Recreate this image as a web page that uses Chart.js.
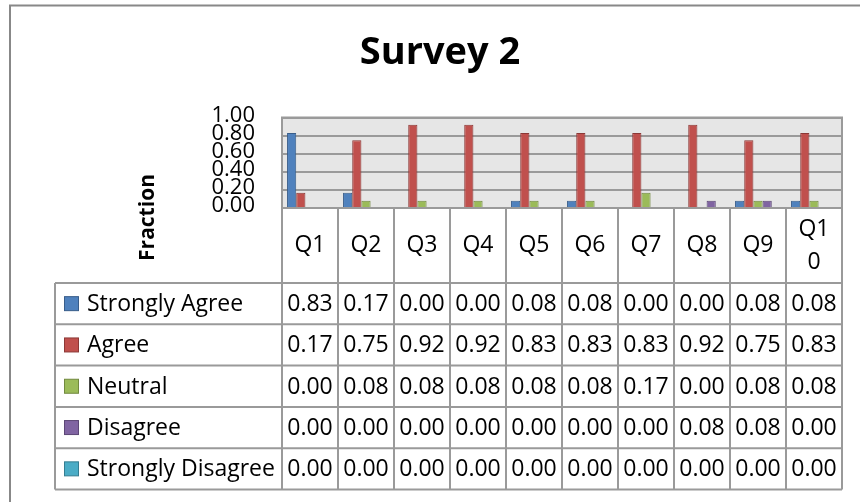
<!DOCTYPE html>
<html>
<head>
<meta charset="utf-8">
<title>Survey 2</title>
<script src="https://cdn.jsdelivr.net/npm/chart.js@4.4.0/dist/chart.umd.min.js"></script>
<style>
  html, body { margin: 0; padding: 0; background: #fff; }
  canvas { display: block; }
</style>
</head>
<body>
<canvas id="chart1" width="860" height="502"></canvas>
<script>
// answers per question, as fraction of respondents
const questions = ['Q1', 'Q2', 'Q3', 'Q4', 'Q5', 'Q6', 'Q7', 'Q8', 'Q9', 'Q10'];
const stronglyAgree = [0.83, 0.17, 0.00, 0.00, 0.08, 0.08, 0.00, 0.00, 0.08, 0.08];
const agree = [0.17, 0.75, 0.92, 0.92, 0.83, 0.83, 0.83, 0.92, 0.75, 0.83];
const neutral = [0.00, 0.08, 0.08, 0.08, 0.08, 0.08, 0.17, 0.00, 0.08, 0.08];
const disagree = [0.00, 0.00, 0.00, 0.00, 0.00, 0.00, 0.00, 0.08, 0.08, 0.00];
const stronglyDisagree = [0.00, 0.00, 0.00, 0.00, 0.00, 0.00, 0.00, 0.00, 0.00, 0.00];

const seriesNames = ['Strongly Agree', 'Agree', 'Neutral', 'Disagree', 'Strongly Disagree'];
const seriesValues = [stronglyAgree, agree, neutral, disagree, stronglyDisagree];
const fillColors = ['#4F81BD', '#C0504D', '#9BBB59', '#8064A2', '#4BACC6'];
const edgeColors = ['#385D8A', '#8C3836', '#71893F', '#5C4776', '#357D91'];

const FONT = "'Open Sans', sans-serif";
const LINE = '#9a9a9a';
const TABLE_LEFT = 55;
const ROW_H = 41.3;
const CELL_FONT = '23px ' + FONT;

// plot background, frame, the data table under the axis and the axis title
const tablePlugin = {
  id: 'dataTable',
  beforeDraw(chart) {
    const { ctx, chartArea: a } = chart;
    ctx.save();
    ctx.strokeStyle = '#888';
    ctx.lineWidth = 2;
    ctx.beginPath();
    ctx.moveTo(10, 502);
    ctx.lineTo(10, 5.5);
    ctx.lineTo(860, 5.5);
    ctx.stroke();
    ctx.fillStyle = '#e6e6e6';
    ctx.fillRect(a.left, a.top, a.right - a.left, a.bottom - a.top);
    ctx.restore();
  },
  afterDraw(chart) {
    const { ctx, chartArea: a } = chart;
    const xs = chart.scales.x;
    const top = xs.bottom;
    const bottom = top + ROW_H * seriesNames.length;
    const colW = (a.right - a.left) / questions.length;

    ctx.save();
    ctx.strokeStyle = LINE;
    ctx.lineWidth = 2;
    ctx.beginPath();
    // plot border
    ctx.moveTo(a.left, a.bottom);
    ctx.lineTo(a.left, a.top);
    ctx.lineTo(a.right, a.top);
    ctx.lineTo(a.right, a.bottom);
    // row lines
    for (let r = 0; r <= seriesNames.length; r++) {
      ctx.moveTo(TABLE_LEFT, top + r * ROW_H);
      ctx.lineTo(a.right, top + r * ROW_H);
    }
    ctx.moveTo(a.left, a.bottom);
    ctx.lineTo(a.right, a.bottom);
    // column lines
    ctx.moveTo(TABLE_LEFT, top);
    ctx.lineTo(TABLE_LEFT, bottom);
    for (let i = 0; i <= questions.length; i++) {
      ctx.moveTo(a.left + i * colW, a.bottom);
      ctx.lineTo(a.left + i * colW, bottom);
    }
    ctx.stroke();

    ctx.font = CELL_FONT;
    ctx.fillStyle = '#000';
    ctx.textBaseline = 'middle';
    ctx.textAlign = 'center';

    // category names centred in the cells under the plot; Q10 wraps
    const midY = (xs.top + xs.bottom) / 2;
    questions.forEach((q, i) => {
      const cx = xs.getPixelForValue(i);
      if (q.length > 2) {
        ctx.fillText(q.slice(0, 2), cx, midY - 16);
        ctx.fillText(q.slice(2), cx, midY + 17);
      } else {
        ctx.fillText(q, cx, midY);
      }
    });

    seriesNames.forEach((name, r) => {
      const cy = top + (r + 0.5) * ROW_H;
      ctx.fillStyle = fillColors[r];
      ctx.fillRect(64.5, cy - 7, 14, 14);
      ctx.strokeStyle = edgeColors[r];
      ctx.lineWidth = 1;
      ctx.strokeRect(64.5, cy - 7, 14, 14);
      ctx.fillStyle = '#000';
      ctx.textAlign = 'left';
      ctx.fillText(name, 87, cy + 1);
      ctx.textAlign = 'center';
      seriesValues[r].forEach((v, i) => {
        ctx.fillText(v.toFixed(2), xs.getPixelForValue(i), cy + 1);
      });
    });

    ctx.translate(148, 217.5);
    ctx.rotate(-Math.PI / 2);
    ctx.font = 'bold 21px ' + FONT;
    ctx.fillText('Fraction', 0, 0);
    ctx.restore();
  }
};

new Chart(document.getElementById('chart1').getContext('2d'), {
  type: 'bar',
  data: {
    labels: questions,
    datasets: seriesNames.map((name, k) => ({
      label: name,
      data: seriesValues[k],
      backgroundColor: fillColors[k],
      borderColor: edgeColors[k],
      borderWidth: 1,
      categoryPercentage: 0.82,
      barPercentage: 1,
    })),
  },
  options: {
    responsive: false,
    animation: false,
    layout: { padding: { left: 38, right: 18, top: 0, bottom: 219 } },
    plugins: {
      legend: { display: false },
      tooltip: { enabled: false },
      title: {
        display: true,
        text: 'Survey 2',
        color: '#000',
        font: { family: FONT, size: 38, weight: 'bold' },
        padding: { top: 30, bottom: 42 },
      },
    },
    scales: {
      x: {
        grid: { display: false, drawTicks: false },
        border: { display: false },
        ticks: { display: false },
        afterFit(scale) { scale.height = 75; },
      },
      y: {
        min: 0,
        max: 1,
        grid: { color: LINE, lineWidth: 2, drawTicks: false },
        border: { display: false },
        ticks: {
          stepSize: 0.2,
          autoSkip: false,
          padding: 27,
          labelOffset: -2,
          color: '#000',
          font: { family: FONT, size: 22 },
          callback: v => v.toFixed(2),
        },
        afterFit(scale) { scale.width = 244; },
      },
    },
  },
  plugins: [tablePlugin],
});
</script>
</body>
</html>
